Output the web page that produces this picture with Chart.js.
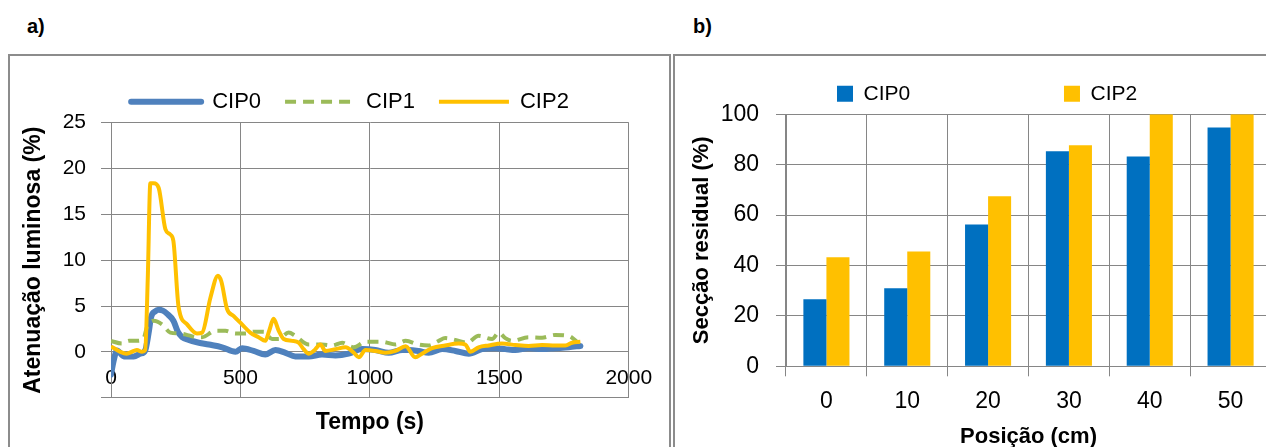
<!DOCTYPE html>
<html>
<head>
<meta charset="utf-8">
<script src="https://cdn.jsdelivr.net/npm/chart.js@4.4.1/dist/chart.umd.min.js"></script>
<style>
  html, body { margin: 0; padding: 0; background: #fff; }
  body { width: 1266px; height: 447px; overflow: hidden; position: relative; font-family: "Liberation Sans", Arial, sans-serif; }
  .tag { position: absolute; top: 14px; font-weight: bold; font-size: 20px; line-height: 24px; color: #000; }
  .frame { position: absolute; top: 54px; height: 420px; border: 2px solid #8c8c8c; }
  canvas { position: absolute; }
</style>
</head>
<body>
<div class="tag" style="left:27px">a)</div>
<div class="tag" style="left:693px">b)</div>
<div class="frame" style="left:8px; width:659px"></div>
<div class="frame" style="left:673px; width:700px"></div>
<canvas id="chartA" width="660" height="391" style="left:10px; top:56px"></canvas>
<canvas id="chartB" width="642" height="400" style="left:678px; top:56px"></canvas>

<script>
// a) atenuação luminosa (%) em função do tempo (s)
const cip0T = [0, 10, 23, 50, 88, 113, 132, 145, 155, 170, 184, 200, 215, 241, 258, 275, 300, 332, 378, 429, 481, 506, 551, 596, 635, 674, 712, 764, 815, 867, 918, 970, 1021, 1073, 1125, 1150, 1188, 1227, 1279, 1330, 1382, 1433, 1485, 1523, 1562, 1613, 1665, 1716, 1768, 1813];
const cip0V = [-2.5, -1.0, 0.15, -0.5, -0.5, -0.2, 0.15, 2.0, 3.8, 4.4, 4.6, 4.5, 4.2, 3.4, 2.2, 1.6, 1.3, 1.05, 0.8, 0.5, 0.0, 0.4, 0.1, -0.3, 0.2, -0.1, -0.5, -0.5, -0.3, -0.4, -0.2, 0.3, 0.2, -0.1, 0.2, 0.2, 0.1, -0.1, 0.3, 0.1, -0.2, 0.3, 0.4, 0.3, 0.2, 0.4, 0.3, 0.4, 0.5, 0.65];

const cip1T = [0, 42, 70, 100, 125, 139, 165, 197, 229, 267, 300, 332, 352, 403, 442, 481, 520, 551, 590, 622, 648, 686, 712, 764, 815, 854, 893, 938, 983, 1047, 1099, 1138, 1188, 1227, 1266, 1291, 1330, 1375, 1420, 1472, 1498, 1523, 1549, 1613, 1665, 1716, 1768, 1800];
const cip1V = [1.2, 0.9, 1.2, 1.2, 1.4, 2.7, 3.4, 3.0, 2.1, 2.0, 1.8, 1.6, 1.6, 2.3, 2.3, 2.0, 2.0, 2.2, 2.2, 1.4, 1.4, 2.1, 1.75, 0.8, 0.8, 0.7, 1.0, 0.5, 1.1, 1.1, 0.8, 1.2, 0.8, 0.7, 1.2, 1.5, 1.3, 1.0, 1.75, 1.4, 2.1, 1.5, 1.2, 1.6, 1.55, 1.85, 1.75, 1.1];

const cip2T = [0, 36, 60, 88, 100, 120, 132, 142, 152, 165, 184, 210, 229, 241, 261, 294, 332, 352, 384, 413, 426, 448, 474, 506, 538, 570, 596, 611, 628, 648, 667, 699, 725, 744, 764, 783, 809, 828, 867, 906, 938, 957, 983, 1021, 1060, 1099, 1138, 1175, 1201, 1240, 1291, 1343, 1369, 1388, 1420, 1459, 1510, 1562, 1613, 1665, 1716, 1755, 1781, 1813];
const cip2V = [0.6, 0.0, -0.2, 0.1, 0.2, 0.0, 0.2, 8.0, 18.4, 18.4, 17.9, 13.4, 12.8, 12.1, 4.9, 3.0, 2.0, 2.1, 5.9, 8.3, 7.7, 4.7, 3.9, 3.0, 2.1, 1.6, 1.2, 2.3, 3.6, 2.3, 1.4, 1.2, 1.0, 0.3, -0.2, 0.1, 0.8, 0.1, 0.3, 0.5, -0.1, -0.6, 0.2, 0.1, -0.1, 0.1, 0.6, -0.6, -0.2, 0.4, 0.7, 0.9, 0.8, 0.0, 0.5, 0.7, 0.9, 0.75, 0.65, 0.75, 0.7, 0.7, 1.0, 1.1];

// b) secção residual (%) por posição (cm)
const posLabels = ["0", "10", "20", "30", "40", "50"];
const cip0Sec = [26.6, 31.0, 56.3, 85.3, 83.3, 94.8];
const cip2Sec = [43.3, 45.6, 67.5, 87.7, 100, 100];

const GRID = "#868686";
Chart.defaults.font.family = '"Liberation Sans", Arial, sans-serif';
Chart.defaults.color = "#000";

function pts(t, v) {
  return t.map((x, i) => ({ x, y: v[i] }));
}

// legenda com o tracejado/espessura da linha da série
function lineLegend(chart) {
  const items = Chart.defaults.plugins.legend.labels.generateLabels(chart);
  items.forEach((it) => {
    const ds = chart.data.datasets[it.datasetIndex];
    it.lineDash = ds.borderDash || [];
    it.lineWidth = ds.borderWidth;
    it.lineCap = ds.borderCapStyle || "butt";
    it.strokeStyle = ds.borderColor;
  });
  return items;
}

// gráfico a) — datasets em ordem inversa para o CIP2 ficar por cima
new Chart(document.getElementById("chartA"), {
  type: "line",
  data: {
    datasets: [
      { label: "CIP2", data: pts(cip2T, cip2V), borderColor: "#FFC000", borderWidth: 4 },
      { label: "CIP1", data: pts(cip1T, cip1V), borderColor: "#9BBB59", borderWidth: 4, borderDash: [11, 7] },
      { label: "CIP0", data: pts(cip0T, cip0V), borderColor: "#4F81BD", borderWidth: 6, borderCapStyle: "round" },
    ],
  },
  options: {
    responsive: false,
    animation: false,
    layout: { padding: { left: 20, top: 4.5, right: 0, bottom: 0 } },
    elements: {
      point: { radius: 0 },
      line: { cubicInterpolationMode: "monotone", borderJoinStyle: "round", fill: false },
    },
    plugins: {
      legend: {
        reverse: true,
        labels: {
          usePointStyle: true,
          pointStyle: "line",
          pointStyleWidth: 70,
          padding: 24,
          font: { size: 22 },
          color: "#000",
          generateLabels: lineLegend,
        },
      },
      tooltip: { enabled: false },
    },
    scales: {
      x: {
        type: "linear",
        min: 0,
        max: 2000,
        // mirror: rótulos dentro da área do gráfico, como no original
        ticks: { stepSize: 500, font: { size: 21 }, color: "#000", mirror: true, padding: 6.5, callback: (v) => String(v) },
        grid: { color: GRID, drawTicks: false },
        border: { color: GRID },
        title: { display: true, text: "Tempo (s)", font: { size: 23, weight: "bold" }, color: "#000", padding: { top: 0, bottom: 11 } },
        afterFit(s) {
          s.height = 49.3;
          s.paddingLeft = 0;
          s.paddingRight = 41.2;
        },
      },
      y: {
        min: -5,
        max: 25,
        ticks: { stepSize: 5, font: { size: 21 }, color: "#000", padding: 15, callback: (v) => (v < 0 ? "" : v) },
        grid: { color: GRID, tickLength: 10 },
        border: { color: GRID },
        title: { display: true, text: "Atenuação luminosa (%)", font: { size: 23, weight: "bold" }, color: "#000", padding: { top: -10.3, bottom: 0 } },
        afterFit(s) {
          s.width = 81;
          s.paddingTop = 66.7;
          s.paddingBottom = 0;
          s.paddingLeft = 0;
          s.paddingRight = 0;
        },
      },
    },
  },
});

// gráfico b) — barras
new Chart(document.getElementById("chartB"), {
  type: "bar",
  data: {
    labels: posLabels,
    datasets: [
      { label: "CIP0", data: cip0Sec, backgroundColor: "#0070C0" },
      { label: "CIP2", data: cip2Sec, backgroundColor: "#FFC000" },
    ],
  },
  options: {
    responsive: false,
    animation: false,
    layout: { padding: { left: 5.2, top: -140.6, right: 0, bottom: 0 } },
    datasets: { bar: { categoryPercentage: 0.57, barPercentage: 1 } },
    plugins: {
      legend: {
        align: "start",
        labels: { boxWidth: 16, boxHeight: 16, padding: 153.8, font: { size: 21 }, color: "#000" },
      },
      tooltip: { enabled: false },
    },
    scales: {
      x: {
        grid: { color: GRID, tickLength: 10 },
        border: { color: GRID },
        ticks: { font: { size: 23 }, color: "#000", padding: 12 },
        title: { display: true, text: "Posição (cm)", font: { size: 22, weight: "bold" }, color: "#000", padding: { top: 0, bottom: 5.8 } },
        afterFit(s) {
          s.height = 89.7;
          s.paddingLeft = 0;
          s.paddingRight = 49;
        },
      },
      y: {
        min: 0,
        max: 100,
        ticks: { stepSize: 20, font: { size: 23 }, color: "#000", padding: 17 },
        grid: { color: GRID, tickLength: 10 },
        border: { color: GRID },
        title: { display: true, text: "Secção residual (%)", font: { size: 22, weight: "bold" }, color: "#000", padding: { top: 5.6, bottom: 0 } },
        afterFit(s) {
          s.width = 102.8;
          s.paddingTop = 58.3;
          s.paddingBottom = 0;
          s.paddingLeft = 0;
          s.paddingRight = 0;
        },
      },
    },
  },
});
</script>
</body>
</html>
